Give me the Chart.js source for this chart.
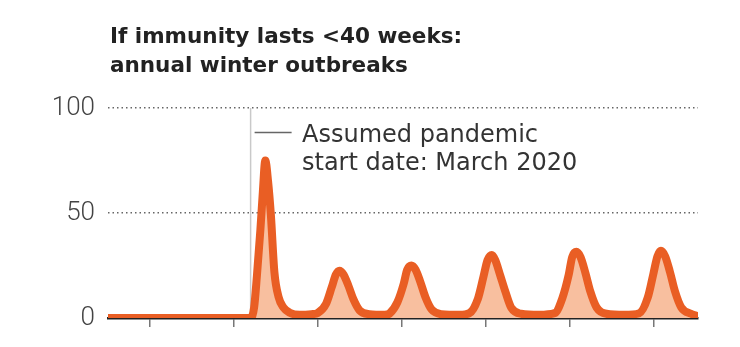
<!DOCTYPE html>
<html>
<head>
<meta charset="utf-8">
<script src="https://cdn.jsdelivr.net/npm/chart.js@4.4.1/dist/chart.umd.min.js"></script>
<style>
  html, body { margin: 0; padding: 0; background: #fff; }
  #wrap { width: 740px; height: 347px; }
</style>
</head>
<body>
<div id="wrap"><canvas id="myChart"></canvas></div>
<script>
// x = months since January 2019, y = share of peak level
const months = [
  -6, 14.4,
  14.9, 15.3, 15.8, 16.15, 16.5, 16.9, 17.3, 17.8, 18.4, 19.1, 20.0, 21.4, 23.1,
  24.0, 25.2, 26.0, 26.6, 27.1, 27.7, 28.4, 29.1, 30.0, 31.4, 33.6,
  34.3, 35.4, 36.3, 36.8, 37.4, 38.0, 38.7, 39.4, 40.3, 41.7, 44.3,
  45.7, 46.9, 47.7, 48.3, 48.9, 49.4, 50.1, 50.9, 51.7, 53.1, 55.7,
  57.9, 59.0, 59.9, 60.4, 61.0, 61.6, 62.3, 63.0, 63.9, 65.3, 67.9,
  70.0, 71.2, 72.0, 72.6, 73.1, 73.7, 74.4, 75.1, 76.0, 77.4, 78.1
];
const cases = [
  0, 0,
  5, 20, 42, 60, 75, 65, 49, 22, 10, 5, 2.5, 1.5, 1.8,
  2.4, 6.8, 14.6, 20.7, 22.5, 20.7, 15.3, 9, 3.6, 1.8, 1.5,
  2.2, 7.5, 16.3, 23, 25, 23, 17, 10, 4, 1.8, 1.5,
  2.3, 9, 19.5, 27.6, 30, 27.6, 20.4, 12, 4.8, 2, 1.5,
  2.3, 9.5, 20.5, 29, 31.5, 29, 21.4, 12.6, 5, 2, 1.5,
  2.3, 9.6, 20.8, 29.4, 32, 29.4, 21.8, 12.8, 5.1, 2, 1.2
];
const yearTicks = [0, 12, 24, 36, 48, 60, 72];
const yTicks = [0, 50, 100];
const pandemicStart = 14.4;
const titleLines = ['If immunity lasts <40 weeks:', 'annual winter outbreaks'];
const noteLines = ['Assumed pandemic', 'start date: March 2020'];

const orange = '#e95e24';
const peach = '#f8bf9f';

// title, start-date marker and its note
const extras = {
  id: 'extras',
  beforeDatasetsDraw(chart) {
    const {ctx, scales: {x, y}} = chart;
    const px = x.getPixelForValue(pandemicStart);
    ctx.save();
    ctx.strokeStyle = '#c9c9c9';
    ctx.lineWidth = 1.5;
    ctx.beginPath();
    ctx.moveTo(px, y.getPixelForValue(100));
    ctx.lineTo(px, y.getPixelForValue(0));
    ctx.stroke();
    ctx.restore();
  },
  afterDraw(chart) {
    const {ctx, scales: {x}} = chart;
    const px = x.getPixelForValue(pandemicStart);
    ctx.save();
    ctx.fillStyle = '#222';
    ctx.font = 'bold 21.5px "DejaVu Sans"';
    ctx.textBaseline = 'alphabetic';
    ctx.fillText(titleLines[0], 110, 42.5);
    ctx.fillText(titleLines[1], 110, 72);

    ctx.strokeStyle = '#666';
    ctx.lineWidth = 1.5;
    ctx.beginPath();
    ctx.moveTo(px + 4, 132.5);
    ctx.lineTo(px + 41, 132.5);
    ctx.stroke();

    ctx.fillStyle = '#333';
    ctx.font = '24px "DejaVu Sans"';
    ctx.fillText(noteLines[0], 302, 141.5);
    ctx.fillText(noteLines[1], 302, 170);
    ctx.restore();
  }
};

const data = {
  datasets: [{
    data: months.map((m, i) => ({x: m, y: cases[i]})),
    borderColor: orange,
    backgroundColor: peach,
    borderWidth: 8,
    borderCapStyle: 'round',
    borderJoinStyle: 'round',
    fill: 'origin',
    pointRadius: 0,
    cubicInterpolationMode: 'monotone'
  }]
};

const config = {
  type: 'line',
  data,
  options: {
    responsive: true,
    maintainAspectRatio: false,
    animation: false,
    layout: { padding: { top: 108, right: 42, left: 0, bottom: 0 } },
    scales: {
      x: {
        type: 'linear',
        min: -6,
        max: 78.4,
        afterBuildTicks: (scale) => { scale.ticks = yearTicks.map(v => ({value: v})); },
        afterFit: (scale) => { scale.height = 29; },
        ticks: { display: false },
        grid: {
          drawOnChartArea: false,
          drawTicks: true,
          tickLength: 9,
          color: '#777',
          lineWidth: 1.5
        },
        border: { display: true, color: '#222', width: 2.5 }
      },
      y: {
        min: 0,
        max: 100,
        afterBuildTicks: (scale) => { scale.ticks = yTicks.map(v => ({value: v})); },
        afterFit: (scale) => { scale.width = 108; },
        ticks: {
          padding: 13,
          color: '#444',
          font: { family: 'Roboto', size: 26, weight: 300 }
        },
        grid: {
          drawTicks: false,
          color: (c) => c.tick && c.tick.value === 0 ? 'rgba(0,0,0,0)' : '#666',
          lineWidth: 1.5,
          borderDash: [1.5, 3]
        },
        border: { display: false, dash: [1.5, 3] }
      }
    },
    plugins: {
      legend: { display: false },
      tooltip: { enabled: false }
    }
  },
  plugins: [extras]
};

const myChart = new Chart(document.getElementById('myChart'), config);
</script>
</body>
</html>
